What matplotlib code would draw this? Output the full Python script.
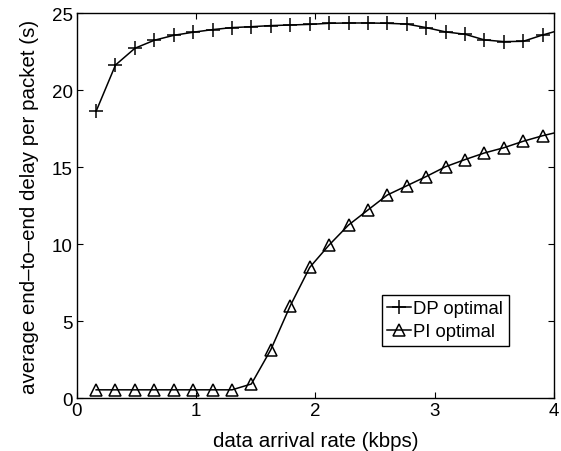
import matplotlib.pyplot as plt
import numpy as np

plt.rcParams['font.family'] = ['Liberation Sans', 'DejaVu Sans']

# data arrival rate (kbps)
rate = [0.163, 0.325, 0.488, 0.651, 0.814, 0.976, 1.139, 1.302, 1.464, 1.627,
        1.790, 1.953, 2.115, 2.278, 2.441, 2.603, 2.766, 2.929, 3.092, 3.254,
        3.417, 3.580, 3.742, 3.905, 4.068]

dp_delay = [18.64, 21.64, 22.73, 23.25, 23.57, 23.77, 23.94, 24.07, 24.13, 24.20,
            24.24, 24.28, 24.35, 24.37, 24.37, 24.35, 24.30, 24.07, 23.79, 23.64,
            23.27, 23.16, 23.18, 23.59, 23.95]

pi_delay = [0.55, 0.55, 0.55, 0.55, 0.55, 0.55, 0.55, 0.55, 0.93, 3.16,
            6.01, 8.50, 9.95, 11.25, 12.23, 13.20, 13.80, 14.40, 15.04, 15.50,
            15.93, 16.27, 16.69, 17.05, 17.35]

fig = plt.figure(figsize=(5.61, 4.52), dpi=100)
ax = fig.add_axes([0.1367, 0.1166, 0.8508, 0.8518])

ax.plot(rate, dp_delay, color='black', lw=1.1, marker='+', markersize=10,
        markeredgewidth=1.1, label='DP optimal')
ax.plot(rate, pi_delay, color='black', lw=1.1, marker='^', markersize=9,
        markerfacecolor='none', markeredgewidth=1.1, label='PI optimal')

ax.set_xlim(0, 4)
ax.set_ylim(0, 25)
ax.set_xticks([0, 1, 2, 3, 4])
ax.set_yticks([0, 5, 10, 15, 20, 25])
ax.tick_params(direction='in', top=True, right=True, labelsize=13.5, length=4, pad=3)
for s in ax.spines.values():
    s.set_linewidth(1.0)

ax.set_xlabel('data arrival rate (kbps)', fontsize=14.8, labelpad=8)
ax.set_ylabel('average end\u2013to\u2013end delay per packet (s)', fontsize=14.8, labelpad=9)

leg = ax.legend(loc='lower right', bbox_to_anchor=(0.905, 0.137), borderaxespad=0,
                fontsize=13.3, handlelength=1.3, handletextpad=0.1, borderpad=0.3,
                labelspacing=0.3, fancybox=False, framealpha=1)
leg.get_frame().set_edgecolor('black')
leg.get_frame().set_linewidth(1.0)

fig.savefig('out.png', dpi=100)
